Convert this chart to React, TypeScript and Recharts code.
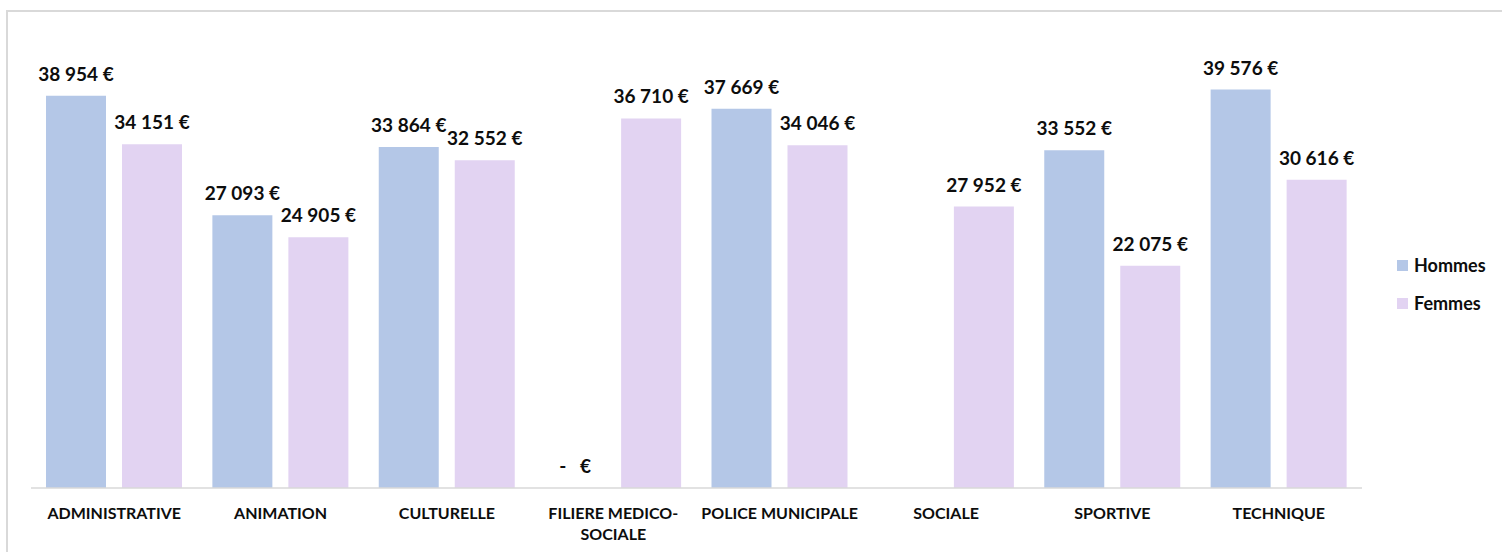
import { Bar, BarChart, LabelList, Legend, XAxis, YAxis } from "recharts";

const categories = [
  "ADMINISTRATIVE",
  "ANIMATION",
  "CULTURELLE",
  "FILIERE MEDICO-SOCIALE",
  "POLICE MUNICIPALE",
  "SOCIALE",
  "SPORTIVE",
  "TECHNIQUE",
];
const hommes: (number | null)[] = [38954, 27093, 33864, 0, 37669, null, 33552, 39576];
const femmes: (number | null)[] = [34151, 24905, 32552, 36710, 34046, 27952, 22075, 30616];

const data = categories.map((name, i) => ({ name, hommes: hommes[i], femmes: femmes[i] }));

const FONT = "Lato, 'Open Sans', sans-serif";
const BLUE = "#B4C7E7";
const LILAC = "#E2D3F2";
const INK = "#0D0D0D";
const BAR_SIZE = 60;
const BAR_GAP = 16;

function formatEuro(v: unknown): string {
  if (v === null || v === undefined) return "";
  const n = Number(v);
  if (n === 0) return "-\u00a0\u00a0\u00a0\u20ac";
  return n.toLocaleString("fr-FR").replace(/\u202f|\u00a0/g, " ") + " \u20ac";
}

function LabelText({ cx, y, value }: { cx: number; y: number; value: unknown }) {
  return (
    <text
      x={cx}
      y={y - 15}
      textAnchor="middle"
      fontFamily={FONT}
      fontWeight={700}
      fontSize={19}
      fill={INK}
      style={{ whiteSpace: "pre" }}
    >
      {formatEuro(value)}
    </text>
  );
}

function ValueLabel({ x, y, width, value }: any) {
  if (value === null || value === undefined) return null;
  return <LabelText cx={Number(x) + Number(width) / 2} y={Number(y)} value={value} />;
}

// recharts skips zero-height bars in the label list, so the "- €" of a zero
// Hommes value is drawn next to the matching Femmes bar, on the baseline
function FemmesLabel(props: any) {
  const { x, y, width, height, value, index } = props;
  const h = props.payload?.hommes ?? data[index]?.hommes;
  const cx = Number(x) + Number(width) / 2;
  return (
    <g>
      {value !== null && value !== undefined && <LabelText cx={cx} y={Number(y)} value={value} />}
      {h === 0 && <LabelText cx={cx - BAR_SIZE - BAR_GAP} y={Number(y) + Number(height)} value={0} />}
    </g>
  );
}

function CategoryTick({ x, y, payload }: any) {
  const label: string = payload.value;
  const cut = label.indexOf("-");
  const lines = cut >= 0 ? [label.slice(0, cut + 1), label.slice(cut + 1)] : [label];
  return (
    <text x={x} y={y} textAnchor="middle" fontFamily={FONT} fontWeight={700} fontSize={16} fill={INK}>
      {lines.map((l, i) => (
        <tspan key={i} x={x} dy={i === 0 ? 23 : 21}>
          {l}
        </tspan>
      ))}
    </text>
  );
}

function LegendBox() {
  const items = [
    { label: "Hommes", color: BLUE },
    { label: "Femmes", color: LILAC },
  ];
  return (
    <div style={{ fontFamily: FONT, fontWeight: 700, fontSize: 18, color: INK }}>
      {items.map((it) => (
        <div key={it.label} style={{ display: "flex", alignItems: "center", height: 38 }}>
          <span style={{ width: 11, height: 11, background: it.color, marginRight: 6, display: "inline-block" }} />
          {it.label}
        </div>
      ))}
    </div>
  );
}

export default function App() {
  return (
    <div style={{ position: "absolute", left: 0, top: 0, width: 1502, height: 552, background: "#fff", overflow: "hidden" }}>
      <div
        style={{
          position: "absolute",
          left: 6,
          top: 10,
          width: 1520,
          height: 570,
          border: "2px solid #D9D9D9",
          boxSizing: "border-box",
        }}
      />
      <BarChart
        width={1502}
        height={552}
        data={data}
        margin={{ top: 35, right: 40, left: 31, bottom: 0 }}
        barSize={BAR_SIZE}
        barGap={BAR_GAP}
        style={{ position: "absolute", left: 0, top: 0 }}
      >
        <XAxis
          dataKey="name"
          axisLine={{ stroke: "#D9D9D9", strokeWidth: 1.5 }}
          tickLine={false}
          tick={<CategoryTick />}
          interval={0}
          height={64}
        />
        <YAxis hide domain={[0, 45000]} />
        <Legend
          layout="vertical"
          verticalAlign="middle"
          align="right"
          content={<LegendBox />}
          width={100}
          wrapperStyle={{ position: "absolute", left: 1397, top: 246, width: 100 }}
        />
        <Bar dataKey="hommes" name="Hommes" fill={BLUE} isAnimationActive={false}>
          <LabelList dataKey="hommes" content={<ValueLabel />} />
        </Bar>
        <Bar dataKey="femmes" name="Femmes" fill={LILAC} isAnimationActive={false}>
          <LabelList dataKey="femmes" content={<FemmesLabel />} />
        </Bar>
      </BarChart>
    </div>
  );
}
